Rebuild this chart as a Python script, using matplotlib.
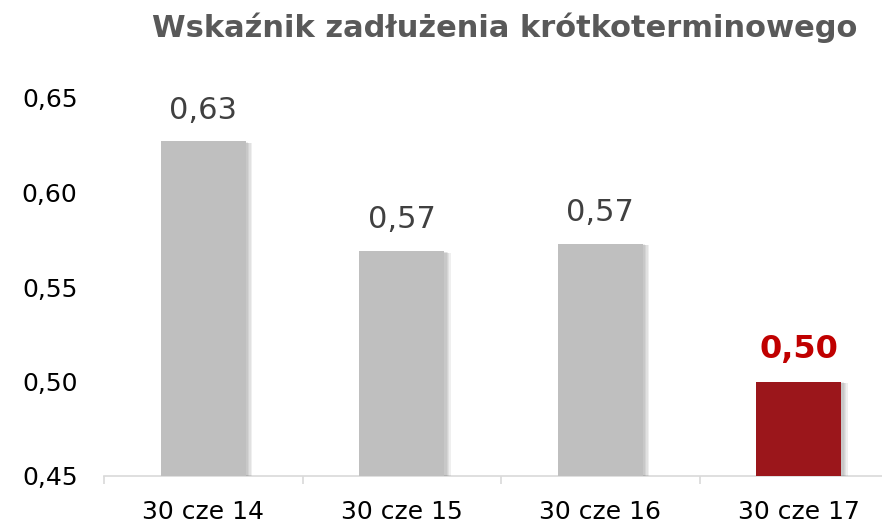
import matplotlib
matplotlib.use("Agg")
import matplotlib.pyplot as plt
import matplotlib.patheffects as pe

categories = ["30 cze 14", "30 cze 15", "30 cze 16", "30 cze 17"]
values = [0.627, 0.569, 0.573, 0.500]
labels = ["0,63", "0,57", "0,57", "0,50"]
yticks = [0.45, 0.50, 0.55, 0.60, 0.65]
ytick_labels = ["0,45", "0,50", "0,55", "0,60", "0,65"]
title = "Wskaźnik zadłużenia krótkoterminowego"

colors = ["#BFBFBF", "#BFBFBF", "#BFBFBF", "#9B161B"]

plt.rcParams['font.family'] = ['DejaVu Sans']
fig = plt.figure(figsize=(8.82, 5.23), dpi=100)
ax = fig.add_axes([104/882, 47/523, 794/882, 378/523])
ax.set_xlim(-0.5, 3.5)
ax.set_ylim(0.45, 0.65)

x = list(range(len(categories)))
shadow = [pe.SimplePatchShadow(offset=(o, -o * 0.3), shadow_rgbFace='#555555', alpha=0.09)
          for o in (4.5, 3.5, 2.5, 1.5)] + [pe.Normal()]
bars = ax.bar(x, values, width=0.43, color=colors, bottom=0, zorder=3)
for b in bars:
    b.set_path_effects(shadow)

for i, (v, lab) in enumerate(zip(values, labels)):
    if i == 3:
        ax.annotate(lab, (i, v), xytext=(0, 12), textcoords='offset points',
                    ha='center', va='bottom', fontsize=23, fontweight='bold', color='#C00000')
    else:
        ax.annotate(lab, (i, v), xytext=(0, 12), textcoords='offset points',
                    ha='center', va='bottom', fontsize=22, color='#404040')

ax.set_yticks(yticks)
ax.set_yticklabels(ytick_labels, fontsize=18, color='black')
ax.tick_params(axis='y', length=0, pad=19)
ax.set_xticks(x)
ax.set_xticklabels(categories, fontsize=18, color='black')
ax.tick_params(axis='x', which='major', length=0, pad=17)
ax.set_xticks([-0.5, 0.5, 1.5, 2.5, 3.5], minor=True)
ax.tick_params(axis='x', which='minor', length=6, color='#D9D9D9', width=1.2)

for s in ['left', 'right', 'top']:
    ax.spines[s].set_visible(False)
ax.spines['bottom'].set_color('#D9D9D9')
ax.spines['bottom'].set_linewidth(1.2)

fig.text(505/882, 1 - 28/523, title, ha='center', va='center',
         fontsize=22, fontweight='bold', color='#595959')

fig.savefig("out.png", dpi=100)
